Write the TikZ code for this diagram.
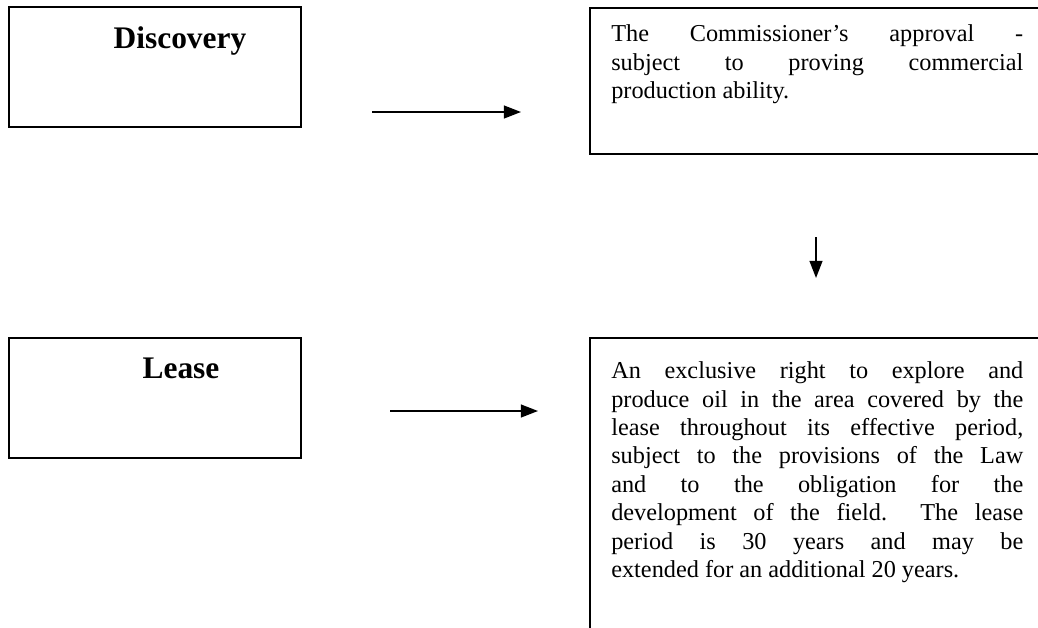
\documentclass[tikz,border=0pt]{standalone}
\usepackage{fontspec}
\setmainfont{Liberation Serif}
\usetikzlibrary{arrows.meta,positioning}
\tolerance=10000
\hbadness=10000
\hyphenpenalty=10000

\begin{document}
\begin{tikzpicture}[x=0.7pt,y=-0.7pt,
  box/.style={draw, line width=1.2pt, anchor=north west, inner sep=0pt},
  head/.style={font=\fontsize{22}{26}\selectfont\bfseries, anchor=base, inner sep=0pt},
  body/.style={anchor=north west, inner sep=0pt, text width=288.4pt, align=justify,
    font=\fontsize{17}{19.9}\selectfont},
  arrow/.style={line width=1.2pt, -{Triangle[length=12pt,width=9pt]}}]

  \clip (0,0) rectangle (1038,627);

  \node (disc) [box, minimum width=204.4pt, minimum height=84pt] at (8,6) {};
  \node (lease) [box, minimum width=204.4pt, minimum height=84pt] at (8,337) {};
  \node (approval) [box, minimum width=322.7pt, minimum height=102.2pt] at (589,7) {};
  \node (rights) [box, minimum width=322.7pt, minimum height=219.1pt] at (589,337) {};

  \node (disctext) [head] at (180,48) {Discovery};
  \node (leasetext) [head] at (181,378) {Lease};
  \node (approvaltext) [body] at (611,24.5) {The Commissioner’s approval -\linebreak
    subject to proving commercial\linebreak production ability.};
  \node (rightstext) [body] at (611,361.5) {An exclusive right to explore and\linebreak
    produce oil in the area covered by the\linebreak
    lease throughout its effective period,\linebreak
    subject to the provisions of the Law\linebreak
    and to the obligation for the\linebreak
    development of the field.\ \ The lease\linebreak
    period is 30 years and may be\linebreak
    extended for an additional 20 years.};

  \coordinate (d1) at (372,112);
  \coordinate (d2) at (521,112);
  \coordinate (a1) at (816,237);
  \coordinate (a2) at (816,278);
  \coordinate (l1) at (390,411);
  \coordinate (l2) at (538,411);

  \draw [arrow] (d1) -- (d2);
  \draw [arrow] (a1) -- (a2);
  \draw [arrow] (l1) -- (l2);

\end{tikzpicture}
\end{document}
